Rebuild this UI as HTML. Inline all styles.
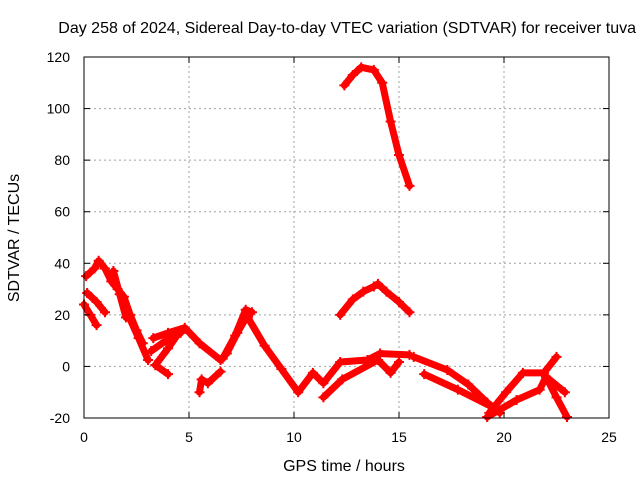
<!DOCTYPE html>
<html><head><meta charset="utf-8"><style>
body{margin:0;background:#fff;font-family:"Liberation Sans",sans-serif}
svg text{font-family:"Liberation Sans",sans-serif;font-size:14px;fill:#000}
svg text.big{font-size:16px}
</style></head><body>
<svg id="c" width="640" height="480" xmlns="http://www.w3.org/2000/svg">
<rect width="640" height="480" fill="#fff"/>
<text class="big" x="636" y="33" text-anchor="end">Day 258 of 2024, Sidereal Day-to-day VTEC variation (SDTVAR) for receiver tuva</text>
<text class="big" x="344" y="471" text-anchor="middle">GPS time / hours</text>
<text class="big" transform="translate(19,238) rotate(-90)" text-anchor="middle">SDTVAR / TECUs</text>
<g id="grid"></g><g id="marks"></g><g id="axes"></g>
</svg>
<script>
const xTicks=[0,5,10,15,20,25];
const yTicks=[-20,0,20,40,60,80,100,120];
// tracks: times (hours) and SDTVAR values (TECU)
const tA=[12.4,12.8,13.2,13.8,14.2,14.6,15.0,15.5];
const vA=[109,113,116,115,110,95,82,70];
const tB=[12.2,12.8,13.3,13.8,14.0,14.4,15.0,15.5];
const vB=[20,26,29,31,32,29,25,21];
const tC=[0.1,0.5,0.7,1.0,1.3,1.6,1.9,2.2,2.5,2.8];
const vC=[35,38,41,38,33,30,27,20,14,9];
const tD=[0,0.3,0.6];
const vD=[24,20,16];
const tE=[0.15,0.6,1.0];
const vE=[28.5,25,21];
const tF=[1.4,1.7,2.0];
const vF=[37,28,19];
const tG=[2.1,2.6,3.05];
const vG=[20,11,2.5];
const tH=[3.3,4.0,4.8,5.5,6.5];
const vH=[11,13,15,9,2.5];
const tI=[3.4,4.0,4.6];
const vI=[0.5,7,14];
const tJ=[3.4,4.0];
const vJ=[0.5,-3];
const tK=[3.2,3.9,4.6];
const vK=[6,10,13];
const tL=[5.5,5.6,5.9,6.5];
const vL=[-10,-5,-6.5,-2];
const tM=[6.6,7.2,7.7,8.0];
const vM=[3,12,22,21];
const tN=[6.8,7.3,7.8];
const vN=[5,13,20];
const tO=[7.8,8.6,9.4,10.2,10.9,11.4,12.2,13.5,14.1,15.5];
const vO=[19,8,-1,-10,-2.5,-6.5,1.7,2.5,5,4.5];
const tP=[11.4,12.3,14.0,14.6,15.0];
const vP=[-12,-5,2.5,-2.5,1.7];
const tQ=[15.7,17.3,18.3,19.2,19.8];
const vQ=[3.7,-1.4,-7,-14,-18];
const tR=[16.2,17.8,19.5];
const vR=[-3,-9,-16];
const tS=[19.3,20.1,20.9,21.9,22.5];
const vS=[-18,-10,-2.5,-2.5,3.7];
const tT=[19.2,20.6,21.7,22.0,22.5,23.0];
const vT=[-19.6,-13,-9,-4,-12,-19.6];
const tU=[22.0,22.9];
const vU=[-4,-10];
const tracks=[[tA,vA],[tB,vB],[tC,vC],[tD,vD],[tE,vE],[tF,vF],[tG,vG],[tH,vH],[tI,vI],[tJ,vJ],[tK,vK],[tL,vL],[tM,vM],[tN,vN],[tO,vO],[tP,vP],[tQ,vQ],[tR,vR],[tS,vS],[tT,vT],[tU,vU]];
const X0=84,X1=609,Y0=418,Y1=57;
const xs=t=>X0+(t-0)/25*(X1-X0);
const ys=v=>Y0-(v+20)/140*(Y0-Y1);
const NS="http://www.w3.org/2000/svg";
function mk(tag,at,parent){const e=document.createElementNS(NS,tag);for(const k in at)e.setAttribute(k,at[k]);parent.appendChild(e);return e;}
const grid=document.getElementById('grid'),axes=document.getElementById('axes'),marks=document.getElementById('marks');
xTicks.forEach(t=>{const x=xs(t);
 if(t>0&&t<25){const g=mk('line',{x1:x,x2:x,y1:Y0,y2:Y1,stroke:'#a0a0a0','stroke-dasharray':'2,3'},grid);
 
 }
 mk('line',{x1:x,x2:x,y1:Y0,y2:Y0-6,stroke:'#000'},axes);
 mk('line',{x1:x,x2:x,y1:Y1,y2:Y1+6,stroke:'#000'},axes);
 const l=mk('text',{x:x,y:Y0+24,'text-anchor':'middle'},axes);l.textContent=t;
 
 });
yTicks.forEach(v=>{const y=ys(v);
 if(v>-20&&v<120){const g=mk('line',{x1:X0,x2:X1,y1:y,y2:y,stroke:'#a0a0a0','stroke-dasharray':'2,3'},grid);
 
 }
 mk('line',{x1:X0,x2:X0+6,y1:y,y2:y,stroke:'#000'},axes);
 mk('line',{x1:X1,x2:X1-6,y1:y,y2:y,stroke:'#000'},axes);
 const l=mk('text',{x:X0-14,y:y+5,'text-anchor':'end'},axes);l.textContent=v;
 
 });
const fr=mk('rect',{x:X0,y:Y1,width:X1-X0,height:Y0-Y1,fill:'none',stroke:'#000'},axes);


tracks.forEach(([ts,vs])=>{
 const pts=ts.map((t,i)=>xs(t)+','+ys(vs[i])).join(' ');
 const pl=mk('polyline',{points:pts,fill:'none',stroke:'#ff0000','stroke-width':7,'stroke-linejoin':'round','stroke-linecap':'round'},marks);
 
 
 ts.forEach((t,i)=>{const x=xs(t),y=ys(vs[i]);
  const p=mk('path',{d:`M${x-5},${y}H${x+5}M${x},${y-5}V${y+5}`,stroke:'#ff0000','stroke-width':2},marks);
  
  });
});
</script>
</body></html>
